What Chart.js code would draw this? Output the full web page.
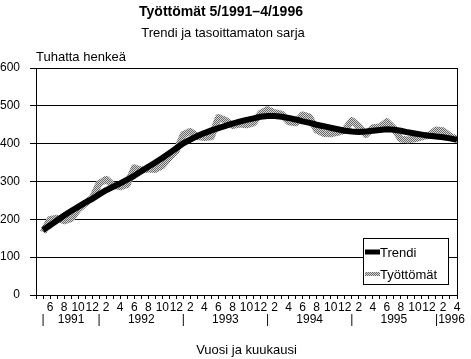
<!DOCTYPE html>
<html>
<head>
<meta charset="utf-8">
<script src="https://cdn.jsdelivr.net/npm/chart.js@4"></script>
<style>
  body { margin: 0; background: #fff; }
</style>
</head>
<body>
<canvas id="chart" width="471" height="359"></canvas>
<script>
const months = [
    '5/1991', '6/1991', '7/1991', '8/1991', '9/1991', '10/1991', '11/1991', '12/1991',
    '1/1992', '2/1992', '3/1992', '4/1992', '5/1992', '6/1992', '7/1992', '8/1992', '9/1992', '10/1992', '11/1992', '12/1992',
    '1/1993', '2/1993', '3/1993', '4/1993', '5/1993', '6/1993', '7/1993', '8/1993', '9/1993', '10/1993', '11/1993', '12/1993',
    '1/1994', '2/1994', '3/1994', '4/1994', '5/1994', '6/1994', '7/1994', '8/1994', '9/1994', '10/1994', '11/1994', '12/1994',
    '1/1995', '2/1995', '3/1995', '4/1995', '5/1995', '6/1995', '7/1995', '8/1995', '9/1995', '10/1995', '11/1995', '12/1995',
    '1/1996', '2/1996', '3/1996', '4/1996'
];

// tuhatta henkeä
const trendi = [
    172, 184, 197, 210, 222, 233, 244, 254,
    266, 277, 286, 295, 305, 315, 327, 339, 350, 362, 375, 388,
    401, 411, 420, 428, 435, 441, 447, 453, 458, 463, 467, 471,
    473, 473, 471, 468, 464, 459, 455, 450, 446, 442, 438, 434,
    432, 431, 432, 434, 436, 438, 437, 434, 430, 427, 424, 421,
    419, 417, 414, 410
];
const tyottomat = [
    166, 200, 203, 196, 202, 226, 242, 256,
    295, 306, 290, 286, 292, 336, 330, 333, 332, 342, 363, 382,
    424, 432, 419, 416, 418, 469, 462, 448, 452, 450, 455, 480,
    490, 482, 478, 458, 455, 476, 470, 436, 427, 426, 430, 436,
    461, 446, 424, 442, 444, 458, 440, 412, 410, 413, 418, 422,
    436, 434, 420, 412
];

const yTicks = [0, 100, 200, 300, 400, 500, 600];

// toinen rivi x-akselin alla
const yearRow = {
    '5/1991': '|', '9/1991': '1991',
    '1/1992': '|', '7/1992': '1992',
    '1/1993': '|', '7/1993': '1993',
    '1/1994': '|', '7/1994': '1994',
    '1/1995': '|', '7/1995': '1995',
    '3/1996': '|1996'
};

const FONT = "'Liberation Sans', Arial, sans-serif";
Chart.defaults.font.family = FONT;
Chart.defaults.color = '#000';

// rasteroitu harmaa kuvio
function makePattern() {
    const c = document.createElement('canvas');
    c.width = 2;
    c.height = 2;
    const g = c.getContext('2d');
    g.fillStyle = '#d4d4d4';
    g.fillRect(0, 0, 2, 2);
    g.fillStyle = '#6a6a6a';
    g.fillRect(0, 0, 1, 1);
    g.fillRect(1, 1, 1, 1);
    return g.createPattern(c, 'repeat');
}
const greyPattern = makePattern();

const textPlugin = {
    id: 'texts',
    afterDatasetsDraw(chart) {
        const ctx = chart.ctx;
        ctx.save();
        // selite
        const bx = 363, by = 238, bw = 85, bh = 46;
        ctx.fillStyle = '#fff';
        ctx.fillRect(bx, by, bw, bh);
        ctx.strokeStyle = '#000';
        ctx.lineWidth = 1;
        ctx.strokeRect(bx + 0.5, by + 0.5, bw, bh);
        ctx.font = '13px ' + FONT;
        ctx.textAlign = 'left';
        ctx.textBaseline = 'alphabetic';
        chart.data.datasets.forEach((ds, i) => {
            const y = by + 14 + i * 22;
            ctx.strokeStyle = ds.borderColor;
            ctx.lineWidth = i === 0 ? 5 : 4;
            ctx.beginPath();
            ctx.moveTo(bx + 2, y);
            ctx.lineTo(bx + 17, y);
            ctx.stroke();
            ctx.fillStyle = '#000';
            ctx.fillText(ds.label, bx + 17, y + 5);
        });
        ctx.restore();
    },
    afterDraw(chart) {
        const ctx = chart.ctx;
        ctx.save();
        ctx.fillStyle = '#000';
        ctx.textAlign = 'center';
        ctx.font = 'bold 14px ' + FONT;
        ctx.fillText('Työttömät 5/1991–4/1996', 221, 16);
        ctx.font = '13px ' + FONT;
        ctx.fillText('Trendi ja tasoittamaton sarja', 223, 37);
        ctx.textAlign = 'left';
        ctx.fillText('Tuhatta henkeä', 36, 61);
        ctx.restore();
    }
};

new Chart(document.getElementById('chart'), {
    type: 'line',
    data: {
        datasets: [{
            label: 'Trendi',
            data: trendi.map((v, i) => ({ x: i, y: v })),
            borderColor: '#000',
            borderWidth: 6,
            pointRadius: 0,
            tension: 0,
            borderJoinStyle: 'round'
        }, {
            label: 'Työttömät',
            data: tyottomat.map((v, i) => ({ x: i, y: v })),
            borderColor: greyPattern,
            borderWidth: 7,
            pointRadius: 0,
            tension: 0,
            borderJoinStyle: 'round'
        }]
    },
    options: {
        responsive: false,
        animation: false,
        layout: { padding: { top: 68, right: 14, bottom: 0, left: 0 } },
        plugins: {
            legend: { display: false },
            tooltip: { enabled: false }
        },
        scales: {
            x: {
                type: 'linear',
                min: -1,
                max: months.length - 1,
                afterFit: s => { s.height = 64; },
                border: { color: '#000' },
                grid: {
                    color: c => c.tick.value === months.length - 1 ? '#000' : 'rgba(0,0,0,0)',
                    tickColor: '#000',
                    tickLength: 4
                },
                ticks: {
                    stepSize: 1,
                    autoSkip: false,
                    maxRotation: 0,
                    minRotation: 0,
                    maxTicksLimit: 100,
                    padding: 3,
                    font: { size: 12, lineHeight: 1.0 },
                    callback: function(value) {
                        const m = months[value];
                        if (m === undefined) return '';
                        const kk = parseInt(m.split('/')[0]);
                        return [kk % 2 === 0 ? String(kk) : '', yearRow[m] || ''];
                    }
                },
                title: {
                    display: true,
                    text: 'Vuosi ja kuukausi',
                    font: { size: 13 },
                    padding: { top: 0, bottom: 1 }
                }
            },
            y: {
                min: 0,
                max: 600,
                afterFit: s => { s.width = 36; },
                afterBuildTicks: s => { s.ticks = yTicks.map(v => ({ value: v })); },
                border: { color: '#000' },
                grid: { color: '#000', tickColor: '#000', tickLength: 6 },
                ticks: { padding: 10, font: { size: 12 } }
            }
        }
    },
    plugins: [textPlugin]
});
</script>
</body>
</html>
